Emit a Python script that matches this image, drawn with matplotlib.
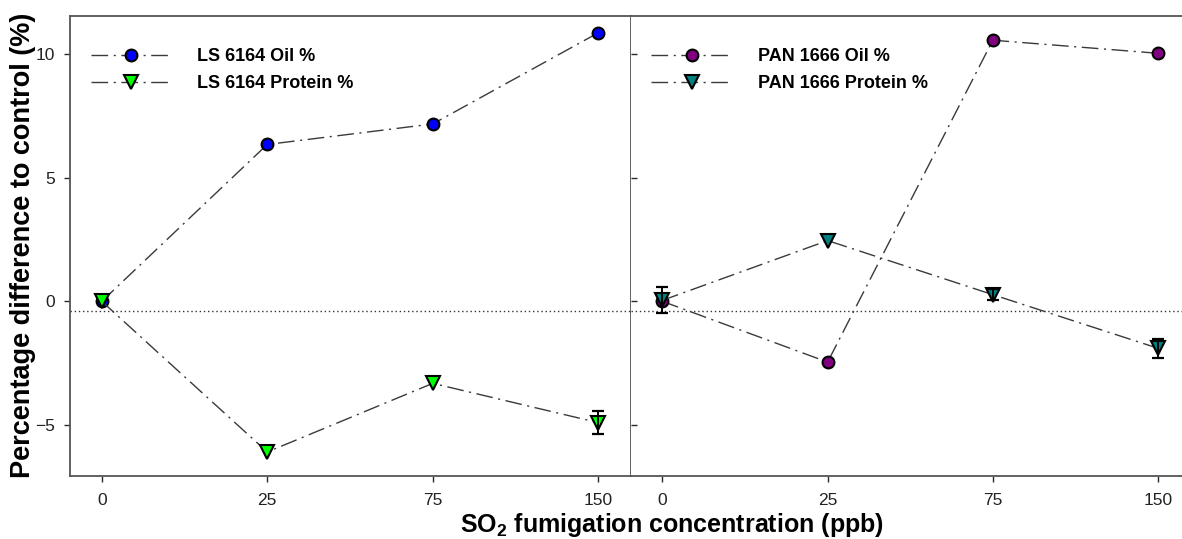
"""
Seed oil and protein response to SO2 fumigation, two cultivars side by side.
"""

import numpy as np
import matplotlib
matplotlib.use("Agg")
import matplotlib.pyplot as plt

plt.rcParams["font.family"] = ["Liberation Sans", "DejaVu Sans"]
plt.rcParams["mathtext.fontset"] = "custom"
plt.rcParams["mathtext.rm"] = "Liberation Sans"
plt.rcParams["mathtext.bf"] = "Liberation Sans:bold"

# ---- data ----
conc_labels = ["0", "25", "75", "150"]
y_ticks = [-5, 0, 5, 10]

ls_oil = [0.0, 6.35, 7.18, 10.87]
ls_protein = [0.0, -6.10, -3.32, -4.91]
ls_protein_err = [0.0, 0.0, 0.0, 0.46]

pan_oil = [0.0, -2.46, 10.57, 10.04]
pan_protein = [0.04, 2.46, 0.27, -1.90]
pan_protein_err = [0.53, 0.0, 0.22, 0.38]

ref_level = -0.4   # dotted reference line

# ---- styling ----
LINE_C = "#3a3a3a"
DASHDOT = (0, (12, 4, 1.5, 4))
SPINE_C = "#555555"
TICK_C = "#2a2a2a"


def series(ax, x, y, color, marker, ms, label, z):
    ax.plot(x, y, color=LINE_C, linestyle=DASHDOT, linewidth=1.0,
            marker=marker, markersize=ms, markerfacecolor=color,
            markeredgecolor="black", markeredgewidth=1.5,
            label=label, zorder=z)


def errbars(ax, x, y, err, z):
    err = np.asarray(err)
    m = err > 0
    ax.errorbar(np.asarray(x)[m], np.asarray(y)[m], yerr=err[m], fmt="none",
                ecolor="black", elinewidth=1.4, capsize=4, capthick=1.6,
                zorder=z)


def style_axes(ax, xlim):
    ax.set_xlim(*xlim)
    ax.set_ylim(-7.05, 11.55)
    ax.set_xticks(np.arange(len(conc_labels)))
    ax.set_xticklabels(conc_labels)
    ax.set_yticks(y_ticks)
    for s in ax.spines.values():
        s.set_color(SPINE_C)
        s.set_linewidth(1.3)
    ax.tick_params(axis="x", direction="out", length=4.5, width=1,
                   color=TICK_C, labelsize=12.5, labelcolor="#222222", pad=8)
    ax.axhline(ref_level, color="#333333", linewidth=1.0,
               linestyle=(0, (1, 2)), zorder=1)


fig = plt.figure(figsize=(11.82, 5.39), dpi=100)
W, H = 1182, 539
ax1 = fig.add_axes([69.5 / W, 63.5 / H, 561 / W, 459.5 / H])
ax2 = fig.add_axes([630.5 / W, 63.5 / H, 551.5 / W, 459.5 / H])

x = np.arange(len(conc_labels))

# left: LS 6164
series(ax1, x, ls_oil, "#0000ff", "o", 8.5, "LS 6164 Oil %", 3)
series(ax1, x, ls_protein, "#00ff00", "v", 9.5, "LS 6164 Protein %", 4)
errbars(ax1, x, ls_protein, ls_protein_err, 5)
style_axes(ax1, (-0.195, 3.195))
ax1.tick_params(axis="y", direction="out", length=4.5, width=1,
                color=TICK_C, labelsize=12.5, labelcolor="#222222", pad=6)

# right: PAN 1666
series(ax2, x, pan_oil, "#800080", "o", 8.5, "PAN 1666 Oil %", 3)
series(ax2, x, pan_protein, "#008080", "v", 9.5, "PAN 1666 Protein %", 4)
errbars(ax2, x, pan_protein, pan_protein_err, 5)
style_axes(ax2, (-0.193, 3.145))
ax2.spines["right"].set_visible(False)
ax2.spines["left"].set_visible(False)
ax2.tick_params(axis="y", direction="in", length=4, width=1,
                color=TICK_C, labelleft=False)

for ax in (ax1, ax2):
    ax.legend(loc="upper left", bbox_to_anchor=(0.038, 0.93), frameon=False,
              borderpad=0, borderaxespad=0, handlelength=4.5,
              handletextpad=1.4, labelspacing=0.55,
              prop={"weight": "bold", "size": 13})

fig.text(23 / W, 1 - 245 / H, "Percentage difference to control (%)",
         rotation=90, ha="center", va="center", fontsize=19.5,
         fontweight="bold", color="black")
fig.text(672 / W, 7 / H, r"SO$_{\mathbf{2}}$ fumigation concentration (ppb)",
         ha="center", va="baseline", fontsize=18, fontweight="bold",
         color="black")

fig.savefig("out.png", dpi=100)
plt.close(fig)
